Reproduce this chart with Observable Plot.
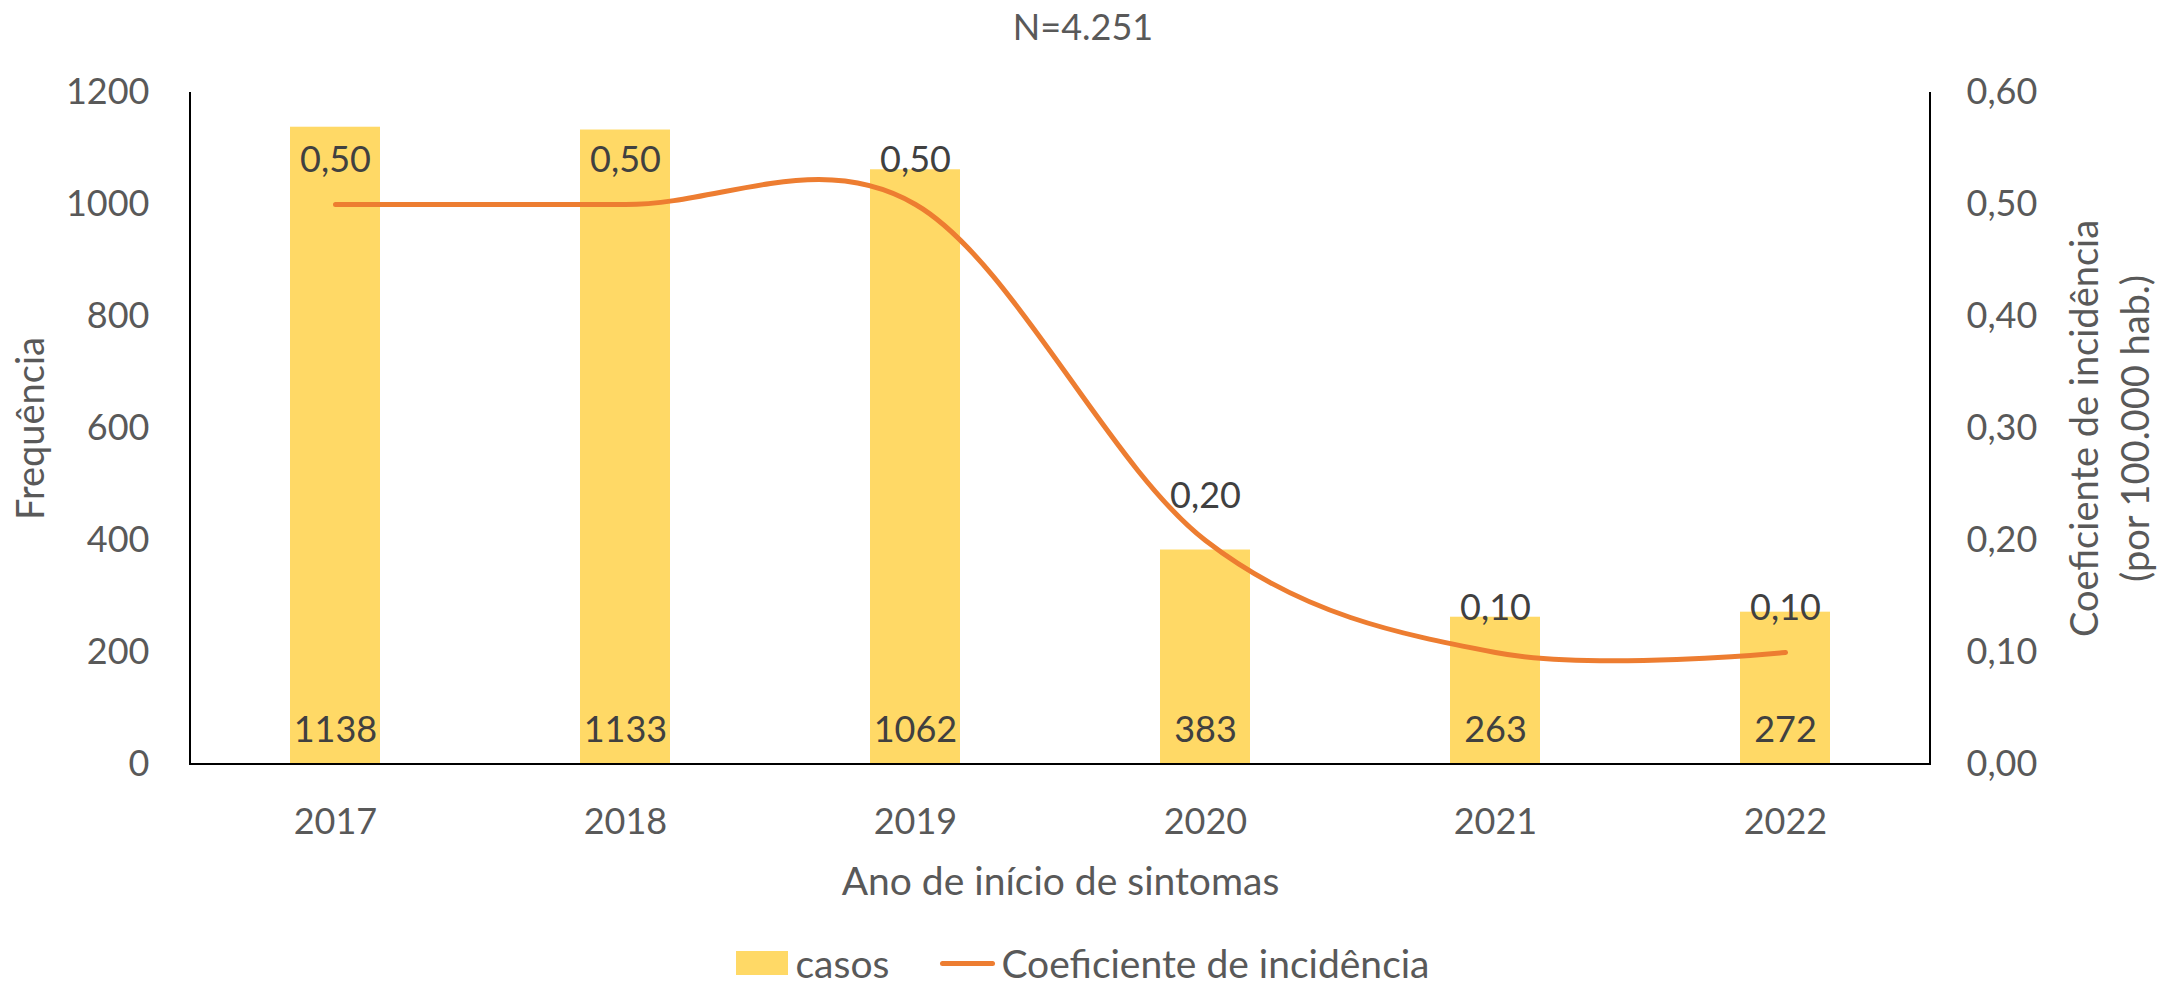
<!DOCTYPE html>
<html>
<head>
<meta charset="utf-8">
<script src="https://cdn.jsdelivr.net/npm/d3@7"></script>
<script src="https://cdn.jsdelivr.net/npm/@observablehq/plot@0.6"></script>
<style>
  html, body { margin: 0; padding: 0; background: #fff; overflow: hidden; }
  body { width: 2182px; height: 989px; font-family: Lato, "Open Sans", sans-serif; color: #595959; }
  #title { height: 52px; line-height: 52px; font-size: 36px; text-align: center; padding-right: 16px; box-sizing: border-box; width: 2182px; }
  #chart svg { display: block; }
  #legend { margin-top: -8px; height: 36px; width: 2182px; display: flex; justify-content: center; align-items: center; font-size: 39px; line-height: 34px; padding-right: 16px; box-sizing: border-box; }
  #legend span { line-height: 34px; display: block; }
  .sw-bar { width: 52px; height: 24px; background: #FFD966; margin-right: 7px; }
  .sw-line { width: 55px; height: 5px; border-radius: 3px; background: #ED7D31; margin-left: 51px; margin-right: 6px; }
</style>
</head>
<body>
<div id="title">N=4.251</div>
<div id="chart"></div>
<div id="legend">
  <div class="sw-bar"></div><span>casos</span>
  <div class="sw-line"></div><span>Coeficiente de incidência</span>
</div>
<script>
// ---- data ----
const years = ["2017", "2018", "2019", "2020", "2021", "2022"];
const casos = [1138, 1133, 1062, 383, 263, 272];
const coeficiente = [0.50, 0.50, 0.50, 0.20, 0.10, 0.10];
const leftTicks = [0, 200, 400, 600, 800, 1000, 1200];
const rightTicks = [0, 0.10, 0.20, 0.30, 0.40, 0.50, 0.60];
const leftMax = 1200;
const rightMax = 0.60;

// ---- derived ----
const ratio = leftMax / rightMax;
const data = years.map((year, i) => ({year, casos: casos[i], coef: coeficiente[i]}));
const fmt2 = v => v.toFixed(2).replace(".", ",");

const textColor = "#595959";
const labelColor = "#404040";

const axisLines = (index, scales, values, dims) => {
  const l = dims.marginLeft, r = dims.width - dims.marginRight;
  const t = dims.marginTop, b = dims.height - dims.marginBottom;
  const g = d3.create("svg:g");
  g.append("path")
    .attr("d", `M${l},${t}V${b}H${r}V${t}`)
    .attr("fill", "none")
    .attr("stroke", "#000")
    .attr("stroke-width", 2);
  return g.node();
};

const chart = Plot.plot({
  width: 2182,
  height: 901,
  marginTop: 40,
  marginBottom: 189,
  marginLeft: 190,
  marginRight: 252,
  style: {fontFamily: "Lato, 'Open Sans', sans-serif", fontSize: "36px", color: textColor, background: "#fff", overflow: "visible"},
  x: {domain: years, paddingInner: 0.69, paddingOuter: 0.345, label: null},
  y: {domain: [0, leftMax], label: null},
  marks: [
    Plot.barY(data, {x: "year", y: "casos", fill: "#FFD966"}),
    axisLines,
    Plot.axisY(leftTicks, {anchor: "left", tickSize: 0, tickPadding: 41, fontSize: 36, color: textColor, label: null, tickFormat: d => String(d)}),
    Plot.axisY(rightTicks.map(v => v * ratio), {anchor: "right", tickSize: 0, tickPadding: 36, fontSize: 36, color: textColor, label: null, tickFormat: d => fmt2(d / ratio)}),
    Plot.axisX({tickSize: 0, tickPadding: 44, fontSize: 36, color: textColor, label: null}),
    Plot.line(data, {x: "year", y: d => d.coef * ratio, stroke: "#ED7D31", strokeWidth: 5, curve: "cardinal", tension: 0, strokeLinecap: "round", strokeLinejoin: "round"}),
    Plot.text(data, {x: "year", y: 0, text: d => String(d.casos), dy: -34, fontSize: 36, fill: labelColor}),
    Plot.text(data, {x: "year", y: d => d.coef * ratio, text: d => fmt2(d.coef), dy: -44, fontSize: 36, fill: labelColor}),
    Plot.text(["Frequência"], {frameAnchor: "left", textAnchor: "middle", lineAnchor: "middle", text: d => d, rotate: -90, dx: -159, fontSize: 38, fill: textColor}),
    Plot.text(["Coeficiente de incidência\n(por 100.000 hab.)"], {frameAnchor: "right", textAnchor: "middle", lineAnchor: "middle", text: d => d, rotate: -90, dx: 177, lineHeight: 1.32, fontSize: 38, fill: textColor}),
    Plot.text(["Ano de início de sintomas"], {frameAnchor: "bottom", textAnchor: "middle", lineAnchor: "middle", text: d => d, dy: 118, fontSize: 39, fill: textColor})
  ]
});
document.getElementById("chart").appendChild(chart);
</script>
</body>
</html>
